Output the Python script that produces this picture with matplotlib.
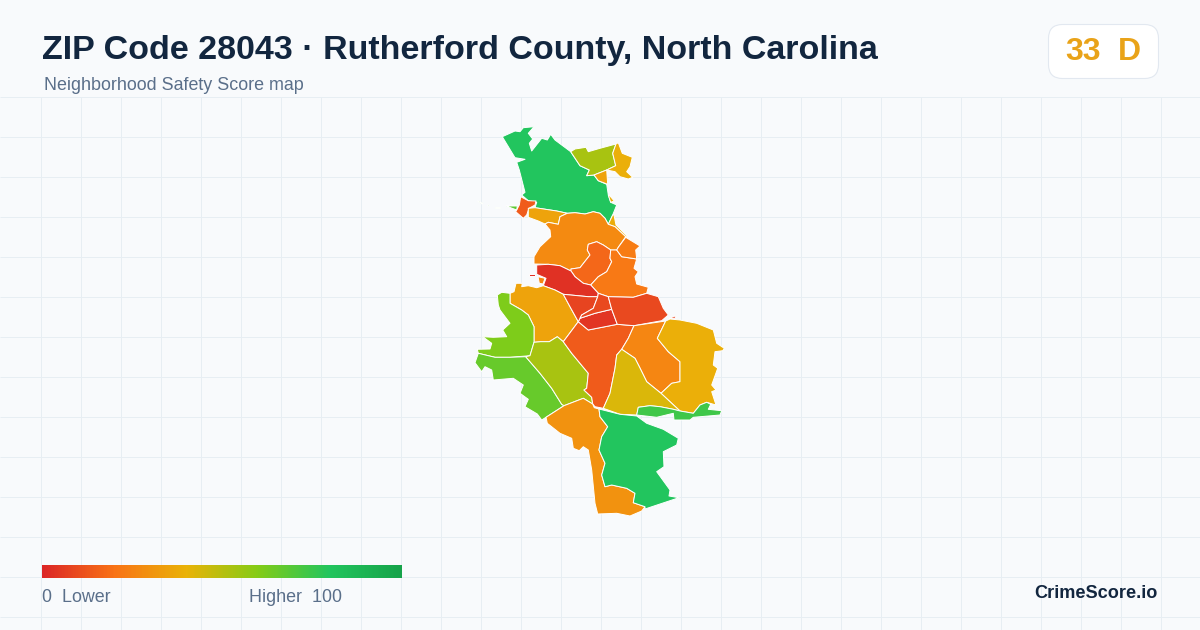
import matplotlib
matplotlib.use("Agg")
import matplotlib.pyplot as plt
import numpy as np
from matplotlib.colors import LinearSegmentedColormap
from matplotlib.patches import FancyBboxPatch, Polygon

plt.rcParams["font.family"] = ["Liberation Sans", "DejaVu Sans"]

title = "ZIP Code 28043 · Rutherford County, North Carolina"
subtitle = "Neighborhood Safety Score map"
badge_score = "33"
badge_grade = "D"
brand = "CrimeScore.io"

# colour ramp of the score legend
ramp_stops = [0.0, 0.2, 0.4, 0.6, 0.8, 1.0]
ramp_colors = ["#dc2626", "#f97316", "#eab308", "#84cc16", "#22c55e", "#16a34a"]

tract_scores = [
    80, 53, 39, 35, 38, 38, 14, 68, 68, 68, 68, 35, 27, 17, 22, 23, 3, 3, 26,
    35, 61, 66, 53, 14, 4, 8, 9, 9, 8, 26, 39, 43, 74, 30, 80,
]

# tract outlines traced in map units
tract_outlines = [
    [(502.3, 136.7), (515, 131), (520, 131.7), (523.3, 127.7), (534, 126.7), (528.3, 133.3), (532.7, 139),
     (529.3, 143.3), (531.7, 151), (541.7, 138.3), (547.3, 140), (550.7, 134.3), (555, 140), (570.7, 151.7),
     (580, 165.7), (589.3, 170), (586.7, 175.7), (594, 175), (598.3, 180.7), (606.7, 184.3), (608.3, 195),
     (610.7, 202.3), (616.7, 205), (612.7, 215), (608.3, 224.3), (605, 218.3), (600, 213.3), (593.3, 211.7),
     (585, 214), (575, 212.7), (567.3, 213.3), (556.7, 211), (535, 207.7), (536.7, 202.3), (528.3, 200.7),
     (521.7, 195), (525, 192.3), (522.7, 183.3), (519.3, 170), (516.7, 162.3), (525, 159.3), (515, 157.7)],
    [(570.7, 151.7), (575, 149), (586, 147.3), (588.3, 151.7), (600, 148.3), (616, 144), (612.7, 153.3),
     (615.7, 165.7), (606.7, 170), (594, 175), (586.7, 175.7), (589.3, 170), (580, 165.7)],
    [(616, 144), (618.3, 142.7), (622.3, 153.3), (632.3, 157.3), (630, 166.7), (626.7, 171.7), (632.7, 177.3),
     (628.3, 179), (620, 176.7), (615, 171.7), (606.7, 170), (615.7, 165.7), (612.7, 153.3)],
    [(594, 175), (606.7, 170), (607.7, 184.3), (598.3, 180.7)],
    [(610, 196), (614.3, 201), (610.7, 202.3), (608.3, 195)],
    [(612.7, 215), (608.3, 224.3), (615, 226.7), (625.7, 236.7), (628, 237), (616, 225), (614, 215)],
    [(520.7, 196.7), (528.3, 200.7), (536, 201), (535, 205), (529, 208.3), (526.7, 215), (523.3, 218.3),
     (515.7, 211.7), (519.3, 205)],
    [(506, 206), (517.3, 206), (516.7, 210)],
    [(477.3, 201), (483.3, 203.3), (482, 204)],
    [(488, 205), (489, 205.5), (488, 206)],
    [(495, 206.5), (500, 206.5), (500, 207.5), (495, 207.5)],
    [(528.3, 208.3), (535, 207.7), (556.7, 211), (567.3, 213.3), (560, 216.7), (558.3, 224.3), (548.3, 222.3),
     (545, 224), (538.3, 221), (528.3, 217.3)],
    [(545, 224), (548.3, 222.3), (558.3, 224.3), (560, 216.7), (567.3, 213.3), (575, 212.7), (585, 214),
     (593.3, 211.7), (600, 213.3), (605, 218.3), (608.3, 224.3), (615, 226.7), (625.7, 236.7), (618.3, 247.3),
     (616.7, 250), (610.7, 250), (603.3, 245), (596.7, 241.7), (588.3, 244.3), (587.3, 250), (590, 255),
     (580, 267.7), (571, 269), (571, 271), (560, 265.7), (548.3, 264.3), (534, 264), (534, 256.7), (540, 246.7),
     (550.7, 236.7), (550, 230)],
    [(596.7, 241.7), (603.3, 245), (610.7, 250), (610, 258.3), (611.7, 261.7), (606.7, 271.7), (598.3, 276.7),
     (590.7, 285), (583.3, 283.3), (575, 276.7), (571, 271), (571, 269), (580, 267.7), (590, 255), (587.3, 250),
     (588.3, 244.3)],
    [(610.7, 250), (616.7, 250), (621.7, 256.7), (636.7, 259), (634, 268.3), (638.3, 271.7), (635, 276.7),
     (636.7, 284), (648.3, 287.3), (646.7, 293.3), (633.3, 297.3), (608.3, 296.7), (598.3, 293.3), (590.7, 285),
     (598.3, 276.7), (606.7, 271.7), (611.7, 261.7), (610, 258.3)],
    [(625.7, 237.3), (640, 246), (635.7, 250), (636.7, 259), (621.7, 256.7), (616.7, 250), (618.3, 247.3)],
    [(536.7, 265), (548.3, 264.3), (560, 265.7), (571, 271), (575, 276.7), (583.3, 283.3), (590.7, 285),
     (598.3, 293.3), (597.7, 296.7), (588.3, 296.7), (563.3, 294.3), (555, 290), (543.3, 285.7), (546, 278.3),
     (536.7, 274.3)],
    [(529.3, 274.3), (535, 274.3), (535, 276), (529.3, 276)],
    [(538, 276.7), (545, 278.3), (543, 284), (539.3, 283.3)],
    [(510, 293.3), (514, 291.7), (516, 283.3), (522.3, 283.3), (521.7, 286.7), (528.3, 285.7), (536.7, 287.7),
     (543.3, 285.7), (555, 290), (563.3, 294.3), (570, 306.7), (578.3, 321.7), (563.3, 341.7), (557.3, 336.7),
     (549.3, 341.7), (540.7, 341.7), (534, 342.3), (534, 326.7), (528.3, 315), (521.7, 310), (510, 303.3)],
    [(497.3, 295), (501.7, 292.3), (510, 293.3), (510, 303.3), (521.7, 310), (528.3, 315), (534, 326.7),
     (534, 342.3), (530, 355.7), (510, 357.3), (495, 357.3), (478.3, 353.3), (477.3, 349.3), (490, 349),
     (491.7, 343.3), (482.7, 336.7), (493.3, 337.3), (506.7, 336.7), (502.7, 330), (510, 323.3), (500, 310),
     (498.3, 305)],
    [(478.3, 353.3), (495, 357.3), (510, 357.3), (525.7, 356.7), (540, 373.3), (551.7, 388.3), (561.7, 404.3),
     (564, 405.7), (546, 417.3), (541.7, 420), (537.3, 414), (525, 406.7), (528.3, 399.3), (520, 393.3),
     (523.3, 385), (513.3, 378.3), (493.3, 380), (491.7, 370), (485, 366.7), (481.7, 371.7), (475, 362.7)],
    [(534, 342.3), (540.7, 341.7), (549.3, 341.7), (557.3, 336.7), (563.3, 341.7), (571.7, 353.3), (580, 363.3),
     (588.3, 373.3), (586.7, 388.3), (584, 390), (591.7, 397.3), (592.7, 404), (583.3, 398.3), (564, 405.7),
     (561.7, 404.3), (551.7, 388.3), (540, 373.3), (525.7, 356.7), (530, 355.7)],
    [(578.3, 321.7), (588.3, 330), (617.3, 324.3), (634, 325.7), (628.3, 338.3), (621.7, 349.3), (616.7, 355),
     (615, 368.3), (610, 393.3), (603.3, 408.3), (595, 406.7), (592.7, 404), (591.7, 397.3), (584, 390),
     (586.7, 388.3), (588.3, 373.3), (580, 363.3), (571.7, 353.3), (563.3, 341.7)],
    [(578.3, 321.7), (580, 318.3), (595, 313.3), (611.7, 309.3), (617.3, 324.3), (588.3, 330)],
    [(563.3, 294.3), (588.3, 296.7), (597.7, 296.7), (593.3, 308.3), (581.7, 315), (578.3, 321.7), (570, 306.7)],
    [(598.3, 293.3), (608.3, 296.7), (611.7, 309.3), (595, 313.3), (580, 318.3), (581.7, 315), (593.3, 308.3),
     (597.7, 296.7)],
    [(608.3, 296.7), (633.3, 297.3), (646.7, 293.3), (658.3, 296.7), (663.3, 308.3), (668.3, 315), (661.7, 320.7),
     (634, 325.7), (617.3, 324.3), (611.7, 309.3)],
    [(668, 319), (675, 316), (676, 318)],
    [(634, 325.7), (665.7, 321), (657.3, 338.3), (668.3, 351.7), (680, 361.7), (680, 381.7), (671.7, 383.3),
     (661, 393.3), (646.7, 381.7), (639.3, 366.7), (635, 358.3), (621.7, 349.3), (628.3, 338.3)],
    [(665.7, 321), (670, 319), (680, 320), (696.7, 323.3), (713.3, 330), (716.7, 343.3), (724.3, 348.3),
     (722.7, 350.7), (715, 351.7), (713.3, 365), (717.7, 368.3), (711.7, 385), (716, 390), (711.7, 391.7),
     (716, 405), (706.7, 402.3), (700, 405), (693.3, 413.3), (680, 411), (661, 393.3), (671.7, 383.3),
     (680, 381.7), (680, 361.7), (668.3, 351.7), (657.3, 338.3)],
    [(621.7, 349.3), (635, 358.3), (639.3, 366.7), (646.7, 381.7), (661, 393.3), (680, 411), (673.3, 409.3),
     (660, 406.7), (650, 405.7), (638.3, 407.3), (636.7, 415), (620, 414.3), (603.3, 408.3), (610, 393.3),
     (615, 368.3), (616.7, 355)],
    [(638.3, 407.3), (650, 405.7), (660, 406.7), (673.3, 409.3), (680, 411), (693.3, 413.3), (700, 405),
     (706.7, 402.3), (710.7, 404.3), (708.3, 409.3), (721.7, 410.7), (720, 415), (693.3, 417.3), (690, 420),
     (674, 420), (673.3, 413.3), (656.7, 417.3), (636.7, 415)],
    [(546, 417.3), (564, 405.7), (583.3, 398.3), (592.7, 404), (594.3, 407.7), (599, 409), (600, 416.7),
     (607.7, 426.7), (601.7, 436.7), (599, 450), (605, 463.3), (601.7, 475), (605, 486.7), (611.7, 485),
     (626.7, 488.3), (635, 493.3), (633.3, 502.7), (645, 506.7), (641.7, 511), (630, 516), (616.7, 513.3),
     (597.7, 514), (595, 503.3), (591.7, 470), (588.3, 450), (583.3, 446.7), (579.3, 450.7), (573.3, 448.3),
     (571.7, 438.3), (560, 433.3), (547.3, 423.3)],
    [(599, 409), (620, 414.3), (636.7, 416), (646.7, 423.3), (663.3, 429.3), (678.3, 438.3), (676.7, 445),
     (663.3, 451.7), (664, 466.7), (656.7, 471.7), (670, 490), (669, 496), (679, 497.7), (645, 509),
     (645, 506.7), (633.3, 502.7), (635, 493.3), (626.7, 488.3), (611.7, 485), (605, 486.7), (601.7, 475),
     (605, 463.3), (599, 450), (601.7, 436.7), (607.7, 426.7), (600, 416.7)],
]

grid_x = np.arange(40.5, 1200, 40)
grid_y = np.arange(96.5, 630, 40)

bg = "#f8fafc"
grid_color = "#e7eef3"
navy = "#12263f"
slate = "#5a6f8a"

cmap = LinearSegmentedColormap.from_list("score", list(zip(ramp_stops, ramp_colors)))

fig = plt.figure(figsize=(12, 6.3), dpi=100, facecolor=bg)
ax = fig.add_axes([0, 0, 1, 1])
ax.set_xlim(0, 1200)
ax.set_ylim(630, 0)
ax.axis("off")

ax.vlines(grid_x, 97, 630, color=grid_color, lw=0.72, zorder=1)
ax.hlines(grid_y, 0, 1200, color=grid_color, lw=0.72, zorder=1)

# map
for outline, score in zip(tract_outlines, tract_scores):
    ax.add_patch(Polygon(outline, closed=True, facecolor=cmap(score / 100), edgecolor="#ffffff",
                         lw=0.7, joinstyle="round", zorder=3))

# header
ax.text(42, 50, title, fontsize=24.5, fontweight="bold", color=navy, va="center", ha="left", zorder=5)
ax.text(44, 86, subtitle, fontsize=12.9, color=slate, va="center", ha="left", zorder=5)

# score badge
badge = FancyBboxPatch((1048.5, 24.5), 110, 54, boxstyle="round,pad=0,rounding_size=14",
                       facecolor="#ffffff", edgecolor="#e2e8f0", lw=0.8, zorder=4)
ax.add_patch(badge)
ax.text(1065, 52, badge_score, fontsize=23, fontweight="bold", color="#e9a319", va="center", ha="left", zorder=5)
ax.text(1141, 52, badge_grade, fontsize=23, fontweight="bold", color="#e9a319", va="center", ha="right", zorder=5)

# legend
gradient = np.linspace(0, 1, 360).reshape(1, -1)
ax.imshow(gradient, cmap=cmap, extent=(42, 402, 578, 565), aspect="auto", zorder=4)
ax.set_xlim(0, 1200)
ax.set_ylim(630, 0)
ax.text(42, 597.5, "0  Lower", fontsize=12.9, color=slate, va="center", ha="left", zorder=5)
ax.text(342, 597.5, "Higher  100", fontsize=12.9, color=slate, va="center", ha="right", zorder=5)

ax.text(1158, 594, brand, fontsize=13.1, fontweight="bold", color=navy, va="center", ha="right", zorder=5)

fig.savefig("out.png", dpi=100, facecolor=bg)
